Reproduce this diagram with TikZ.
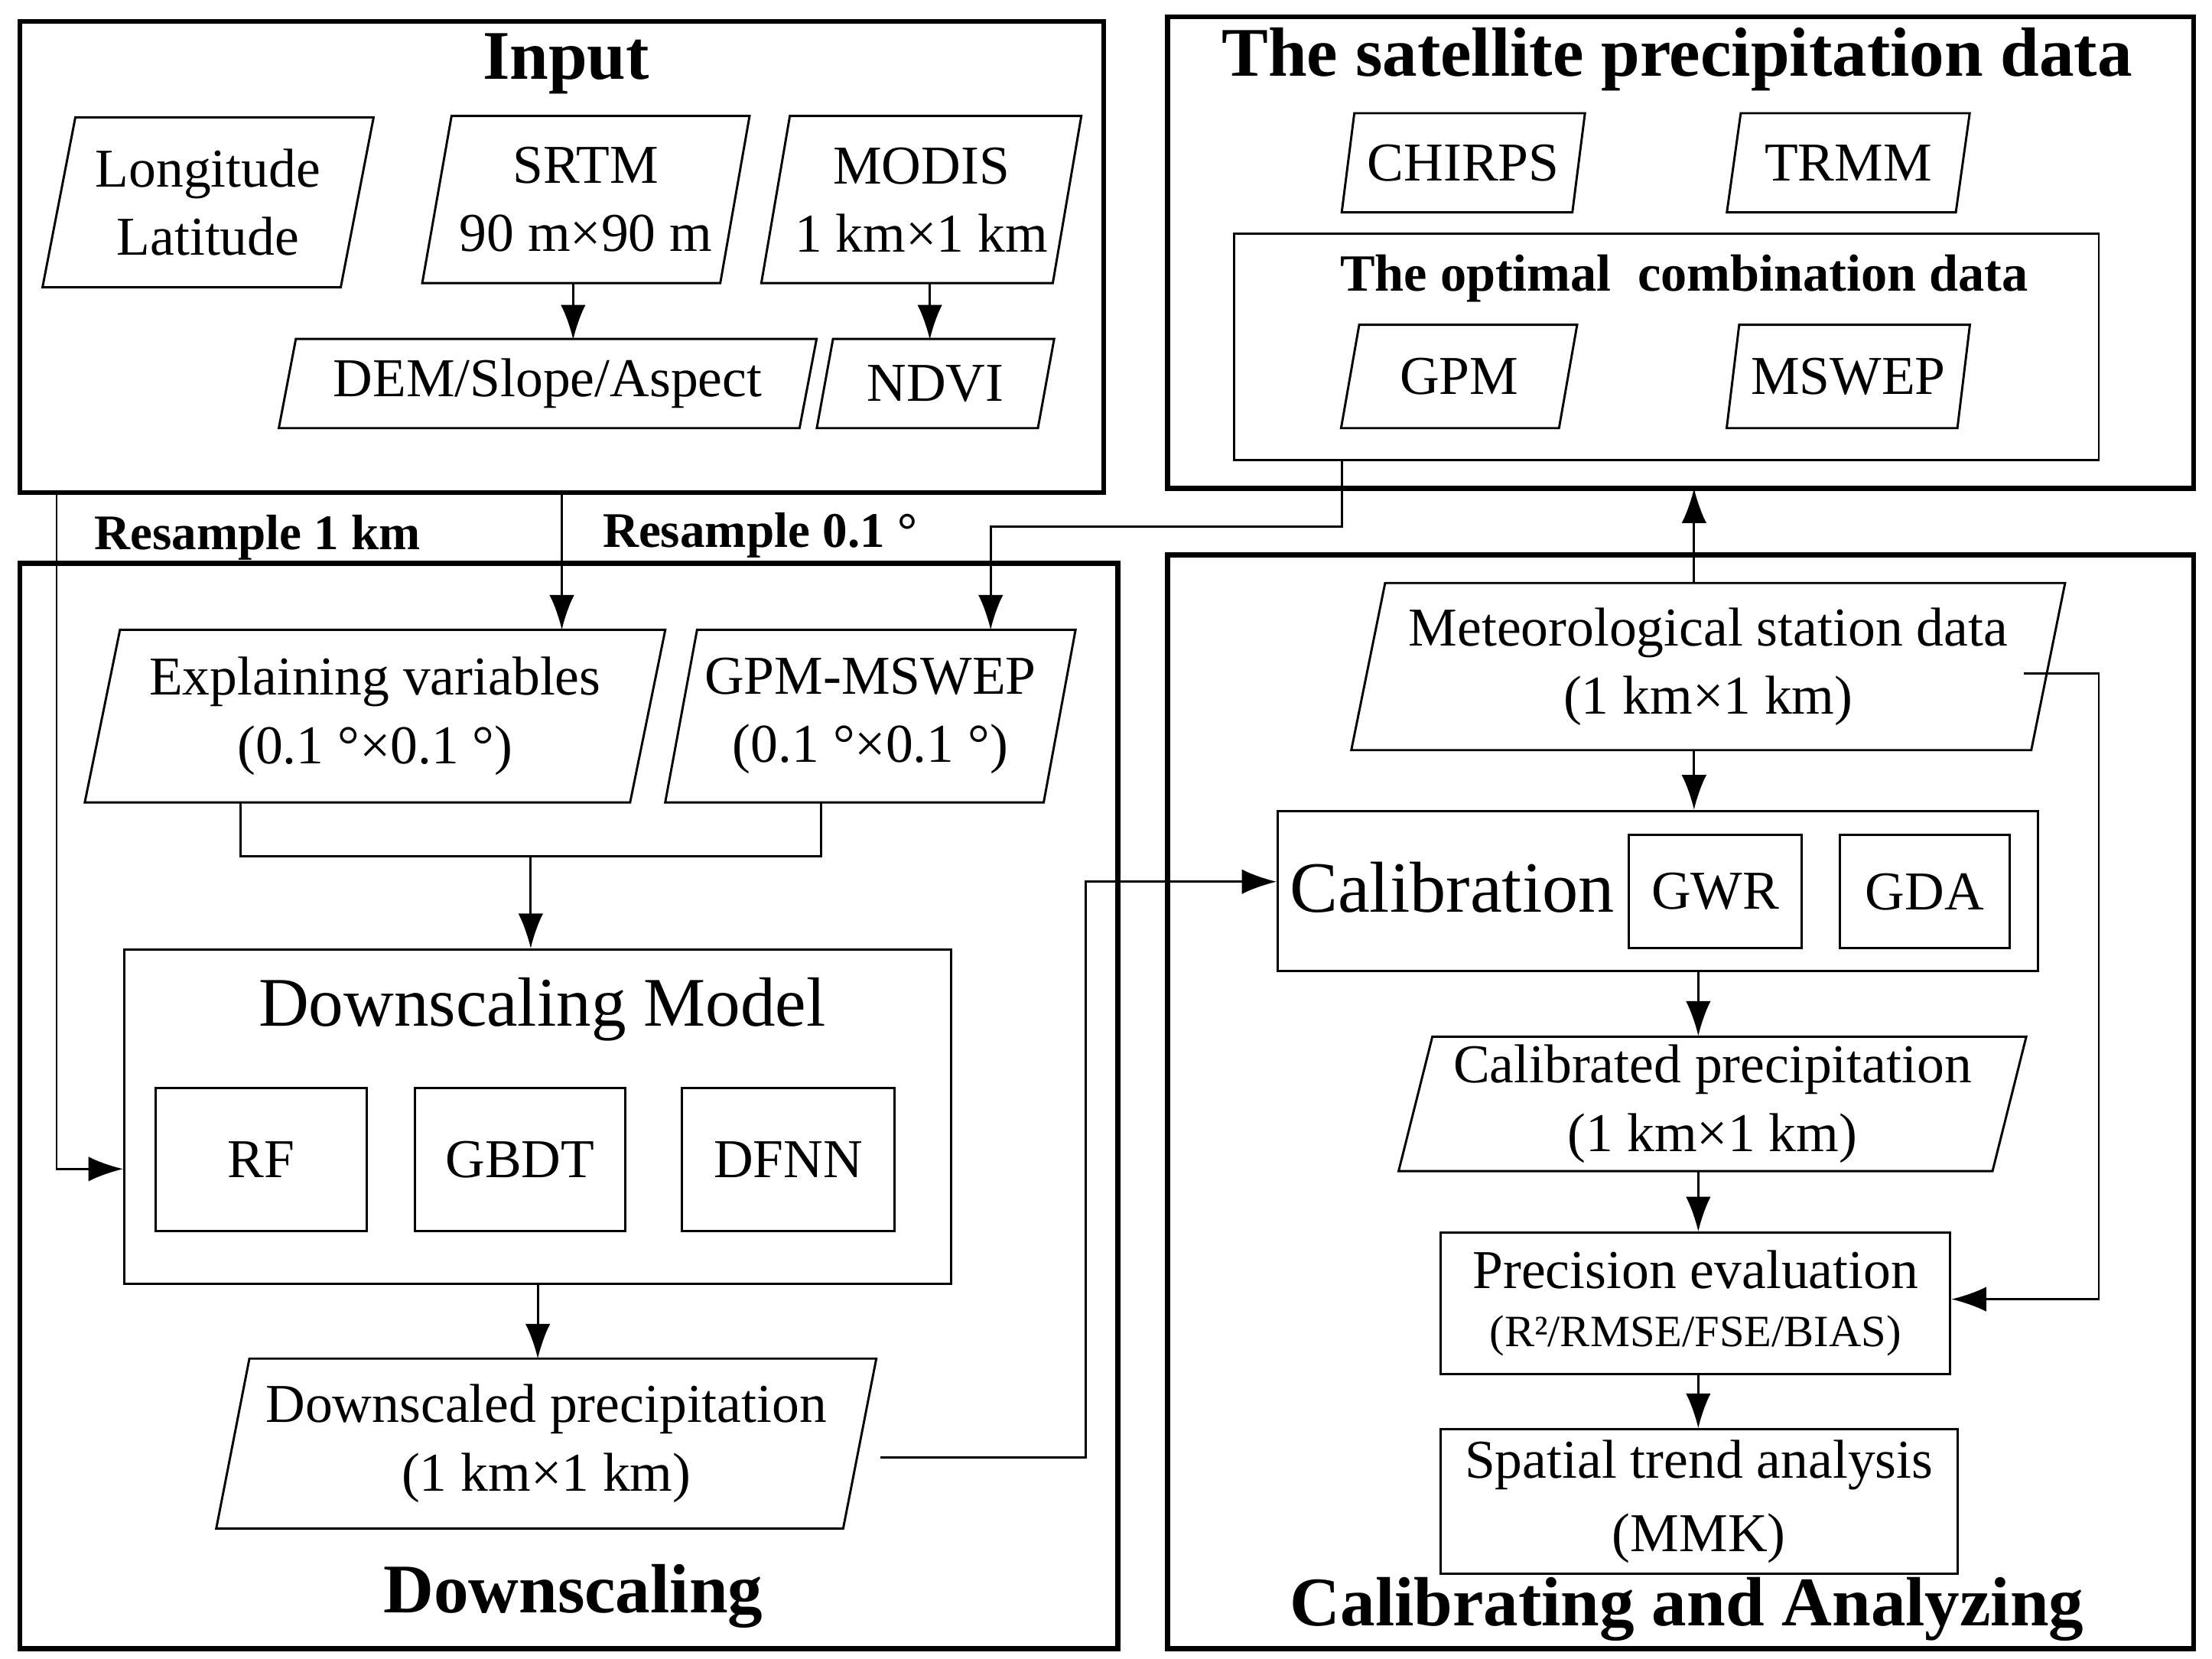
\documentclass[tikz,border=0pt]{standalone}
\usepackage{fontspec}
\setmainfont{Liberation Serif}
\usetikzlibrary{shapes.geometric,arrows.meta}
\begin{document}
\begin{tikzpicture}[x=0.01cm,y=-0.01cm,
  font=\fontsize{11}{13.7}\selectfont,
  outer/.style={draw,line width=1pt},
  para/.style={draw,trapezium,trapezium left angle=76,trapezium right angle=104,trapezium stretches=true,align=center,inner sep=1pt,line width=0.45pt},
  rbox/.style={draw,align=center,line width=0.45pt},
  conn/.style={line width=0.45pt},
  arr/.style={conn,-{Latex[length=7pt,width=5pt]}},
  ttl/.style={font=\fontsize{14}{17}\selectfont\bfseries},
  lab/.style={font=\fontsize{10}{12}\selectfont\bfseries}]
\useasboundingbox (0,0) rectangle (1563,1172);
% outer boxes
\draw[outer] (14,15) rectangle (780,348);
\draw[outer] (825,12) rectangle (1550,345);
\draw[outer] (14,398) rectangle (790,1165);
\draw[outer] (825,392) rectangle (1550,1165);
\node[ttl] (tin) at (400,45) {Input};
\node[ttl] (tsat) at (1185,42) {The satellite precipitation data};
\node[ttl] (tdown) at (405,1128) {Downscaling};
\node[ttl] (tcal) at (1192,1137) {Calibrating and Analyzing};
% input
\node[para,minimum width=2.35cm,minimum height=1.2cm] (ll) at (147,143) {Longitude\\Latitude};
\node[para,minimum width=2.32cm,minimum height=1.18cm] (srtm) at (414,141) {SRTM\\90 m×90 m};
\node[para,minimum width=2.27cm,minimum height=1.18cm] (modis) at (651,141) {MODIS\\1 km×1 km};
\node[para,minimum width=3.81cm,minimum height=0.63cm] (dem) at (387,271) {DEM/Slope/Aspect};
\node[para,minimum width=1.68cm,minimum height=0.63cm] (ndvi) at (661,271) {NDVI};
\draw[arr] (405,200) -- (405,240);
\draw[arr] (657,200) -- (657,240);
% satellite
\node[para,minimum width=1.72cm,minimum height=0.7cm] (chirps) at (1034,115) {CHIRPS};
\node[para,minimum width=1.72cm,minimum height=0.7cm] (trmm) at (1306,115) {TRMM};
\draw[conn] (872,165) rectangle (1483,325);
\coordinate (opt) at (948,325);
\node[font=\fontsize{10.5}{12}\selectfont\bfseries] (optl) at (1190,197) {The optimal\ \ combination data};
\node[para,minimum width=1.67cm,minimum height=0.73cm] (gpm) at (1031,266) {GPM};
\node[para,minimum width=1.72cm,minimum height=0.73cm] (mswep) at (1306,266) {MSWEP};
% downscaling
\node[para,minimum width=4.1cm,minimum height=1.22cm] (expl) at (265,506) {Explaining variables\\(0.1 °×0.1 °)};
\node[para,minimum width=2.9cm,minimum height=1.22cm] (gm) at (615,506) {GPM-MSWEP\\(0.1 °×0.1 °)};
\node[rbox,minimum width=5.84cm,minimum height=2.36cm] (dm) at (380,789) {};
\node[font=\fontsize{14}{17}\selectfont] (dmt) at (383,713) {Downscaling Model};
\node[rbox,minimum width=1.49cm,minimum height=1.01cm] (rf) at (184.5,819.5) {RF};
\node[rbox,minimum width=1.49cm,minimum height=1.01cm] (gbdt) at (367.5,819.5) {GBDT};
\node[rbox,minimum width=1.5cm,minimum height=1.01cm] (dfnn) at (557,819.5) {DFNN};
\node[para,minimum width=4.67cm,minimum height=1.2cm] (dp) at (386,1020) {Downscaled precipitation\\(1 km×1 km)};
% calibrating
\node[para,minimum width=5.05cm,minimum height=1.18cm] (met) at (1207,471) {Meteorological station data\\(1 km×1 km)};
\node[rbox,minimum width=5.37cm,minimum height=1.13cm] (calb) at (1171.5,629.5) {};
\node[font=\fontsize{14.5}{17}\selectfont] (calt) at (1026,627) {Calibration};
\node[rbox,minimum width=1.22cm,minimum height=0.8cm] (gwr) at (1212,630) {GWR};
\node[rbox,minimum width=1.2cm,minimum height=0.8cm] (gda) at (1360,630) {GDA};
\node[para,minimum width=4.44cm,minimum height=0.95cm] (cp) at (1210,780) {Calibrated precipitation\\(1 km×1 km)};
\node[rbox,minimum width=3.6cm,minimum height=1.0cm,inner sep=1pt] (pe) at (1198,921) {Precision evaluation\\[-2pt]{\fontsize{9}{11}\selectfont(R²/RMSE/FSE/BIAS)}};
\node[rbox,minimum width=3.65cm,minimum height=1.02cm,inner sep=1pt] (sta) at (1200.5,1061) {Spatial trend analysis\\[1pt](MMK)};
% connectors
\draw[arr] (40,348) -- (40,826) -- (dm.west |- 0,826);
\node[lab] (r1) at (182,380) {Resample 1 km};
\draw[arr] (397,348) -- (397,445);
\node[lab] (r2) at (537,378) {Resample 0.1 °};
\draw[arr] (opt) -- (948,372) -- (700,372) -- (700,445);
\draw[conn] (170,567) -- (170,605) -- (580,605) -- (580,567);
\draw[arr] (375,605) -- (dm.north -| 375,0);
\draw[arr] (380,907) -- (380,960);
\draw[arr] (622,1030) -- (767,1030) -- (767,623) -- (calb.west |- 0,623);
\draw[arr] (1197,412) -- (1197,345);
\draw[arr] (1197,530) -- (calb.north -| 1197,0);
\draw[arr] (1430,476) -- (1483,476) -- (1483,918) -- (pe.east |- 0,918);
\draw[arr] (1200,686) -- (1200,732);
\draw[arr] (1200,827) -- (pe.north -| 1200,0);
\draw[arr] (pe.south -| 1200,0) -- (sta.north -| 1200,0);
\end{tikzpicture}
\end{document}
